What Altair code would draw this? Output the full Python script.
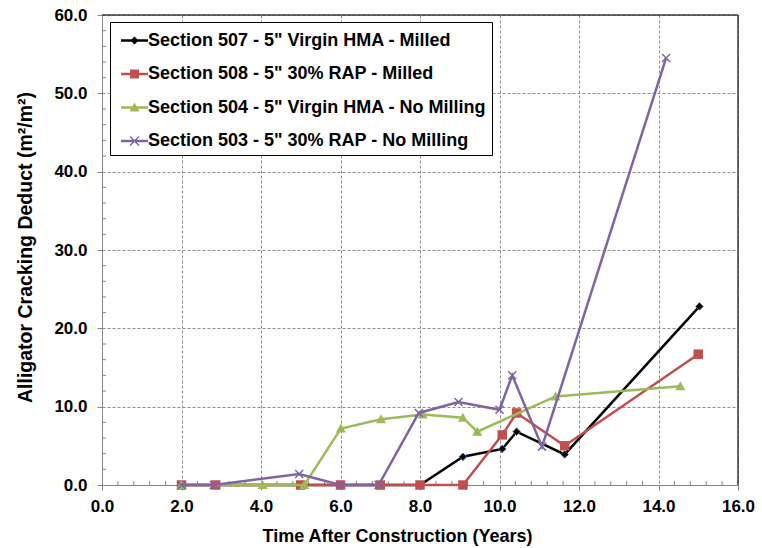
import altair as alt
import pandas as pd

# ---------------- data ----------------
series_names = [
    'Section 507 - 5" Virgin HMA - Milled',
    'Section 508 - 5" 30% RAP - Milled',
    'Section 504 - 5" Virgin HMA - No Milling',
    'Section 503 - 5" 30% RAP - No Milling',
]
series_colors = ["#000000", "#C0504D", "#9BBB59", "#8064A2"]

years_507 = [2.0, 2.86, 5.0, 6.0, 7.0, 8.0, 9.08, 10.07, 10.43, 11.64, 15.03]
deduct_507 = [0.0, 0.0, 0.0, 0.0, 0.0, 0.0, 3.6, 4.6, 6.8, 3.9, 22.8]

years_508 = [2.0, 2.86, 5.0, 6.0, 7.0, 8.0, 9.08, 10.07, 10.43, 11.64, 15.0]
deduct_508 = [0.0, 0.0, 0.0, 0.0, 0.0, 0.0, 0.0, 6.4, 9.2, 5.0, 16.7]

years_504 = [2.0, 4.04, 5.09, 6.01, 7.02, 8.07, 9.08, 9.44, 11.41, 14.55]
deduct_504 = [0.0, 0.0, 0.0, 7.2, 8.4, 9.0, 8.6, 6.8, 11.3, 12.6]

years_503 = [2.0, 2.81, 4.96, 6.0, 6.96, 7.97, 8.97, 10.0, 10.32, 11.07, 14.19]
deduct_503 = [0.0, 0.0, 1.4, 0.0, 0.0, 9.2, 10.6, 9.6, 14.0, 4.9, 54.5]

x_ticks = [0, 2, 4, 6, 8, 10, 12, 14, 16]
y_ticks = [0, 10, 20, 30, 40, 50, 60]
x_minor = [v / 10 for v in range(4, 160, 4) if v % 20 != 0]
y_minor = [v for v in range(2, 60, 2) if v % 10 != 0]

all_years = [years_507, years_508, years_504, years_503]
all_deduct = [deduct_507, deduct_508, deduct_504, deduct_503]
rows = []
for name, xs, ys in zip(series_names, all_years, all_deduct):
    for xv, yv in zip(xs, ys):
        rows.append({"series": name, "years": xv, "deduct": yv})
df = pd.DataFrame(rows)

# ---------------- style ----------------
FONT = "Liberation Sans"
AXIS_GRAY = "#868686"
GRID_GRAY = "#8c8c8c"
BORDER = "#3a3a3a"

# marker shapes for the plotted points
marker_paths = [
    "M0,-1L1,0L0,1L-1,0Z",            # diamond
    "M-1,-1H1V1H-1Z",                 # square
    "M0,-1L1,0.8H-1Z",                # triangle
    "M-1,-1L1,1M1,-1L-1,1",           # x
]
marker_sizes = [60, 90, 100, 64]
marker_filled = [True, True, True, False]

# legend symbols: a short line with the marker on it (filled geometry)
LINE = "M-1,-0.09H1V0.09H-1Z"
legend_paths = [
    LINE + "M0,-0.3L0.3,0L0,0.3L-0.3,0Z",
    LINE + "M-0.33,-0.33H0.33V0.33H-0.33Z",
    LINE + "M0,-0.37L0.37,0.3H-0.37Z",
    LINE + "M-0.291,-0.369L0.369,0.291L0.291,0.369L-0.369,-0.291Z"
    + "M0.369,-0.291L-0.291,0.369L-0.369,0.291L0.291,-0.369Z",
]

xscale = alt.Scale(domain=[0, 16], nice=False, zero=False)
yscale = alt.Scale(domain=[0, 60], nice=False, zero=False)

x_axis = alt.Axis(
    values=x_ticks, format=".1f", title="Time After Construction (Years)",
    labelFont=FONT, labelFontSize=17, labelFontWeight="bold", labelColor="black",
    labelPadding=8, tickSize=5, tickColor=AXIS_GRAY, domainColor=AXIS_GRAY,
    grid=True, gridColor=GRID_GRAY, gridDash=[3, 2], gridWidth=1,
    titleFont=FONT, titleFontSize=18, titleFontWeight="bold", titleColor="black",
    titleX=295, titleY=56, titleBaseline="alphabetic", labelFlush=False,
)
y_axis = alt.Axis(
    values=y_ticks, format=".1f", title="Alligator Cracking Deduct (m²/m²)",
    labelFont=FONT, labelFontSize=17, labelFontWeight="bold", labelColor="black",
    labelPadding=10, tickSize=5, tickColor=AXIS_GRAY, domainColor=AXIS_GRAY,
    grid=True, gridColor=GRID_GRAY, gridDash=[3, 2], gridWidth=1,
    titleFont=FONT, titleFontSize=19.5, titleFontWeight="bold", titleColor="black",
    titleX=-70.5, titleY=232, titleBaseline="alphabetic", labelFlush=False,
)

X = alt.X("years:Q", scale=xscale, axis=x_axis)
Y = alt.Y("deduct:Q", scale=yscale, axis=y_axis)

base = alt.Chart(df)
layers = []

# minor ticks (inside the plot)
layers.append(
    alt.Chart(pd.DataFrame({"years": x_minor}))
    .mark_rule(color=AXIS_GRAY, strokeWidth=1, y2Offset=-4)
    .encode(x=X, y=alt.datum(0, scale=yscale, axis=y_axis), y2=alt.datum(0))
)
layers.append(
    alt.Chart(pd.DataFrame({"deduct": y_minor}))
    .mark_rule(color=AXIS_GRAY, strokeWidth=1, x2Offset=4)
    .encode(y=Y, x=alt.datum(0, scale=xscale, axis=x_axis), x2=alt.datum(0))
)

# top and right frame
layers.append(
    alt.Chart(pd.DataFrame({"v": [0]}))
    .mark_rule(color=BORDER, strokeWidth=1.5)
    .encode(x=alt.datum(0, scale=xscale, axis=x_axis), x2=alt.datum(16),
            y=alt.datum(60, scale=yscale, axis=y_axis))
)
layers.append(
    alt.Chart(pd.DataFrame({"v": [0]}))
    .mark_rule(color=BORDER, strokeWidth=1.5)
    .encode(x=alt.datum(16, scale=xscale, axis=x_axis),
            y=alt.datum(0, scale=yscale, axis=y_axis), y2=alt.datum(60))
)

for i, name in enumerate(series_names):
    sub = base.transform_filter(alt.datum.series == name)
    layers.append(
        sub.mark_line(color=series_colors[i], strokeWidth=2.5).encode(x=X, y=Y)
    )
    if i == 0:
        pm = sub.mark_point(shape=marker_paths[i], filled=True, fill="#000000",
                            stroke="#4F81BD", strokeWidth=0.8,
                            size=marker_sizes[i], opacity=1)
    elif marker_filled[i]:
        pm = sub.mark_point(shape=marker_paths[i], filled=True,
                            color=series_colors[i], size=marker_sizes[i], opacity=1)
    else:
        pm = sub.mark_point(shape=marker_paths[i], filled=False,
                            color=series_colors[i], strokeWidth=1.5,
                            size=marker_sizes[i], opacity=1)
    layers.append(pm.encode(x=X, y=Y))

# legend carrier (no marks drawn)
legend = alt.Legend(
    orient="none", legendX=8, legendY=7, title=None,
    labelFont=FONT, labelFontSize=18, labelFontWeight="bold", labelColor="black",
    labelLimit=600, labelOffset=0,
    symbolSize=729, symbolStrokeWidth=0,
    padding=5, rowPadding=10.5, symbolOffset=6,
    strokeColor="black", fillColor="white", cornerRadius=0,
)
layers.append(
    base.transform_filter("false")
    .mark_point(filled=True, opacity=1)
    .encode(
        x=X, y=Y,
        color=alt.Color("series:N", scale=alt.Scale(domain=series_names, range=series_colors), legend=legend),
        shape=alt.Shape("series:N", scale=alt.Scale(domain=series_names, range=legend_paths), legend=legend),
    )
)

chart = (
    alt.layer(*layers)
    .properties(
        width=636, height=470,
        autosize=alt.AutoSizeParams(type="none"),
        padding={"left": 102, "top": 15, "right": 24, "bottom": 63},
        background="white",
    )
    .configure_view(stroke=None)
)

chart.save("out.html", embed_options={"renderer": "svg", "actions": False})
